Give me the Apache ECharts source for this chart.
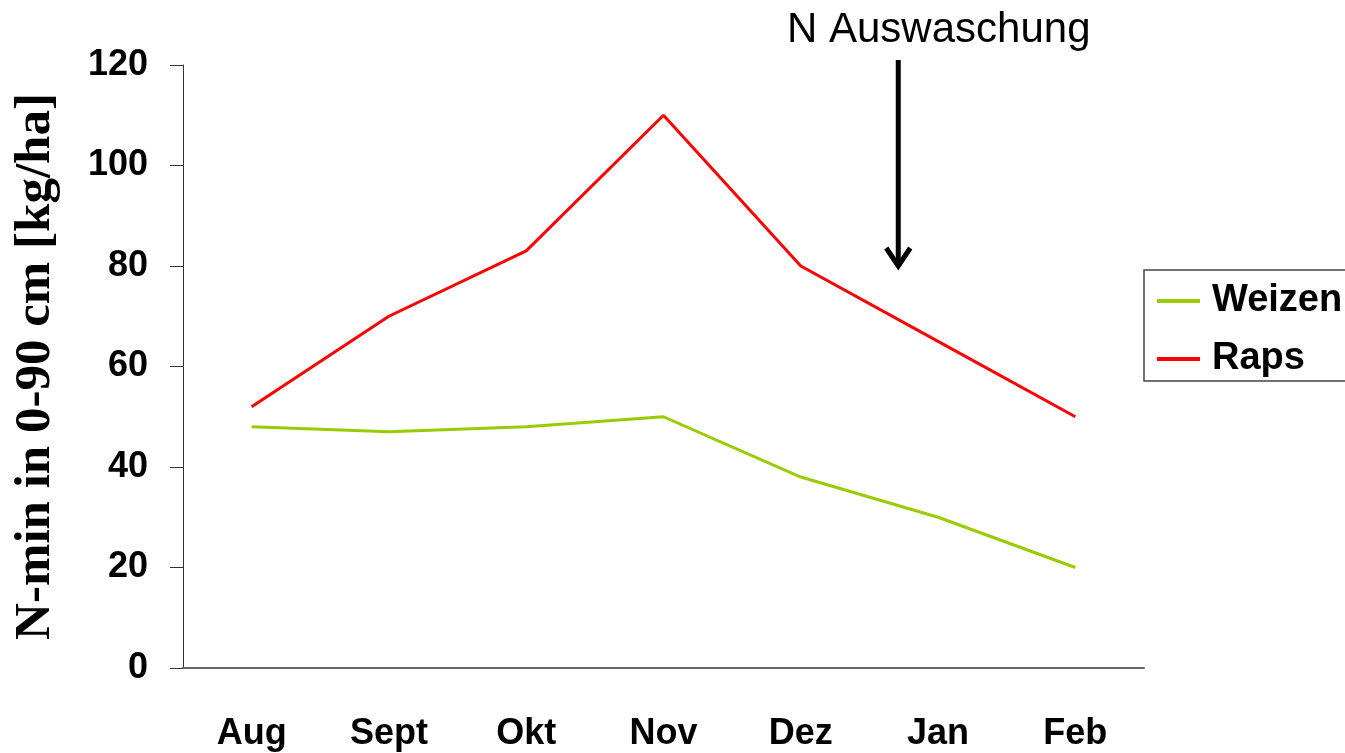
<!DOCTYPE html>
<html>
<head>
<meta charset="utf-8">
<script src="https://cdn.jsdelivr.net/npm/echarts@6/dist/echarts.min.js"></script>
<style>
  html, body { margin: 0; padding: 0; background: #fff; }
  #chart { width: 1345px; height: 753px; }
</style>
</head>
<body>
<div id="chart"></div>
<script>
const MONTHS = ['Aug', 'Sept', 'Okt', 'Nov', 'Dez', 'Jan', 'Feb'];
const WEIZEN = [48, 47, 48, 50, 38, 30, 20];
const RAPS = [52, 70, 83, 110, 80, 65, 50];

// arrow annotation: between Dez and Jan, from above the plot down to ~80
const ARROW_AT = 4.71;
const ARROW_FROM = 121;
const ARROW_TO = 80;
const ARROW_TEXT = 'N Auswaschung';

const chart = echarts.init(document.getElementById('chart'));

chart.setOption({
    animation: false,
    title: {
        text: ARROW_TEXT,
        left: 782,
        top: 4,
        textStyle: { fontFamily: 'Liberation Sans', fontWeight: 'normal', fontSize: 42, color: '#000' }
    },
    grid: { left: 183, right: 201, top: 65, bottom: 85 },
    legend: {
        orient: 'vertical',
        left: 1144,
        top: 270,
        itemWidth: 43,
        itemHeight: 4,
        itemGap: 20,
        icon: 'rect',
        padding: [12, 30, 3, 13],
        borderColor: '#444',
        borderWidth: 1.5,
        textStyle: { fontFamily: 'Liberation Sans', fontWeight: 'bold', fontSize: 38, color: '#000', padding: [0, 0, 0, 7] },
        data: ['Weizen', 'Raps']
    },
    xAxis: {
        type: 'category',
        data: MONTHS,
        axisLine: { lineStyle: { color: '#666', width: 2 } },
        axisTick: { show: false },
        axisLabel: { margin: 48, fontFamily: 'Liberation Sans', fontWeight: 'bold', fontSize: 36, color: '#000' }
    },
    yAxis: {
        type: 'value',
        min: 0,
        max: 120,
        interval: 20,
        name: 'N-min in 0-90 cm [kg/ha]',
        nameLocation: 'middle',
        nameRotate: 90,
        nameGap: 122,
        nameTextStyle: { fontFamily: 'Liberation Serif', fontWeight: 'bold', fontSize: 51, color: '#000' },
        splitLine: { show: false },
        axisLine: { show: true, lineStyle: { color: '#333', width: 1 } },
        axisTick: { show: true, length: 13, lineStyle: { color: '#333' } },
        axisLabel: { margin: 35, fontFamily: 'Liberation Sans', fontWeight: 'bold', fontSize: 36, color: '#000', padding: [4, 0, 0, 0] }
    },
    series: [
        {
            name: 'Weizen', type: 'line', data: WEIZEN, symbol: 'none',
            itemStyle: { color: '#99CC00' }, lineStyle: { color: '#99CC00', width: 3 }
        },
        {
            name: 'Raps', type: 'line', data: RAPS, symbol: 'none',
            itemStyle: { color: '#FF0000' }, lineStyle: { color: '#FF0000', width: 3 }
        }
    ]
});

// place the arrow from data positions
function drawArrow() {
    const i0 = Math.floor(ARROW_AT);
    const p0 = chart.convertToPixel({ gridIndex: 0 }, [i0, ARROW_FROM]);
    const p1 = chart.convertToPixel({ gridIndex: 0 }, [i0 + 1, ARROW_TO]);
    const x = p0[0] + (p1[0] - p0[0]) * (ARROW_AT - i0);
    const yTop = p0[1];
    const yBot = p1[1];
    chart.setOption({
        graphic: [
            {
                type: 'line',
                shape: { x1: x, y1: yTop, x2: x, y2: yBot - 2 },
                style: { stroke: '#000', lineWidth: 5 }
            },
            {
                type: 'polyline',
                shape: { points: [[x - 12, yBot - 18], [x, yBot], [x + 12, yBot - 18]] },
                style: { stroke: '#000', lineWidth: 5, fill: null, lineJoin: 'miter' }
            }
        ]
    });
}
drawArrow();
</script>
</body>
</html>
